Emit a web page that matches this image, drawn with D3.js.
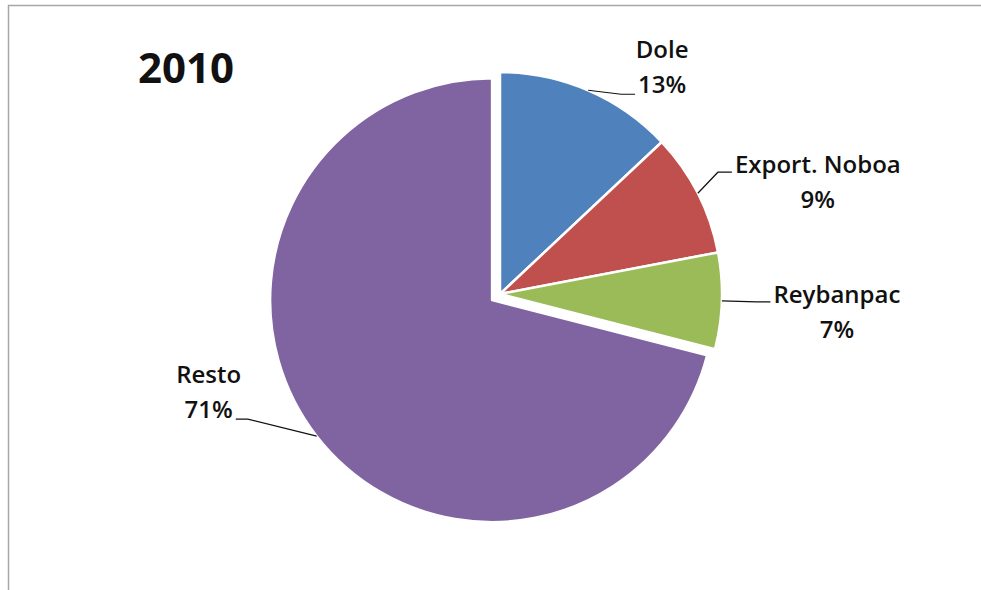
<!DOCTYPE html>
<html>
<head>
<meta charset="utf-8">
<script src="https://cdn.jsdelivr.net/npm/d3@7"></script>
<style>
  body { margin: 0; background: #fff; }
  text { font-family: "Open Sans", "DejaVu Sans", sans-serif; fill: #111; }
</style>
</head>
<body>
<div id="chart"></div>
<script>
// Data
const companies = ["Dole", "Export. Noboa", "Reybanpac", "Resto"];
const shares = [13, 9, 7, 71];
const colors = ["#4F81BD", "#C0504D", "#9BBB59", "#8064A2"];
const title = "2010";

const width = 981, height = 590;
const cx = 500, cy = 294, radius = 222;

const svg = d3.select("#chart").append("svg")
    .attr("width", width)
    .attr("height", height);

// chart frame (cropped: only top and left edges visible)
svg.append("path")
    .attr("d", `M8.5,${height} L8.5,5.5 L${width},5.5`)
    .attr("fill", "none")
    .attr("stroke", "#a6a6a6")
    .attr("stroke-width", 1.5);

svg.append("text")
    .attr("x", 186)
    .attr("y", 83)
    .attr("text-anchor", "middle")
    .style("font-size", "42px")
    .style("font-weight", 700)
    .text(title);

const data = companies.map((name, i) => ({ name, value: shares[i], color: colors[i] }));

const pie = d3.pie().value(d => d.value).sort(null);
const arcs = pie(data);
const arc = d3.arc().innerRadius(0).outerRadius(radius);

// Resto slice is pulled out a bit
const explode = d => d.data.name === "Resto" ? 10 : 0;
const mid = d => (d.startAngle + d.endAngle) / 2;
const offset = d => [Math.sin(mid(d)) * explode(d), -Math.cos(mid(d)) * explode(d)];

const g = svg.append("g").attr("transform", `translate(${cx},${cy})`);

g.selectAll(".slice")
    .data(arcs)
    .enter().append("path")
    .attr("class", "slice")
    .attr("d", arc)
    .attr("transform", d => `translate(${offset(d)})`)
    .attr("fill", d => d.data.color)
    .attr("stroke", "#fff")
    .attr("stroke-width", 2.5)
    .attr("stroke-linejoin", "round");

// label placement relative to the slice edge point
const labelLayout = {
    "Dole":          { dx: 74,   dy: -32, attach: 1, side: "left" },
    "Export. Noboa": { dx: 120,  dy: -20, attach: 0, side: "left" },
    "Reybanpac":     { dx: 115,  dy: 2,   attach: 0, side: "left" },
    "Resto":         { dx: -108, dy: -53, attach: 1, side: "right" }
};
const lineGap = 35;

arcs.forEach(d => {
    const a = mid(d);
    const o = offset(d);
    const edge = [Math.sin(a) * radius + o[0], -Math.cos(a) * radius + o[1]];
    const lay = labelLayout[d.data.name];
    const lx = edge[0] + lay.dx, ly = edge[1] + lay.dy;

    const lines = [d.data.name, d.data.value + "%"];
    const texts = lines.map((s, i) => g.append("text")
        .attr("x", lx)
        .attr("y", ly + i * lineGap)
        .attr("text-anchor", "middle")
        .style("font-size", "24px")
        .style("font-weight", 600)
        .text(s));

    const t = texts[lay.attach];
    const w = t.node().getComputedTextLength();
    const yLine = ly + lay.attach * lineGap + (lay.attach ? 1 : -1);
    let end, elbow;
    if (lay.side === "left") {
        end = [lx - w / 2 - 3, yLine];
        elbow = [end[0] - 14, yLine];
    } else {
        end = [lx + w / 2 + 3, yLine];
        elbow = [end[0] + 12, yLine];
    }
    g.append("path")
        .attr("d", d3.line()([edge, elbow, end]))
        .attr("fill", "none")
        .attr("stroke", "#111")
        .attr("stroke-width", 1.2);
});
</script>
</body>
</html>
